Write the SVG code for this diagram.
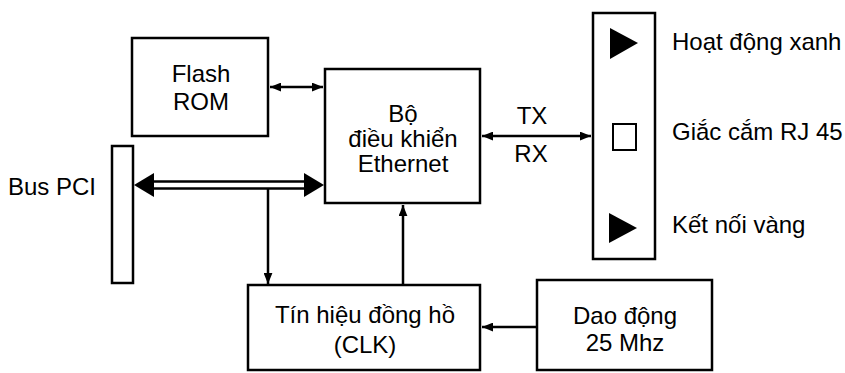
<svg xmlns="http://www.w3.org/2000/svg" width="845" height="373" viewBox="0 0 845 373">
<style>
.box{fill:#fff;stroke:#000;stroke-width:2.5}
.t{font-family:"Liberation Sans",Arial,sans-serif;font-size:24px;fill:#000}
.c{text-anchor:middle}
.ln{stroke:#000;stroke-width:2.5;fill:none}
</style>
<defs>
<marker id="ah" viewBox="0 0 10 8" refX="10" refY="4" markerWidth="11" markerHeight="9" markerUnits="userSpaceOnUse" orient="auto-start-reverse">
<path d="M0,0 L10,4 L0,8 z" fill="#000"/>
</marker>
</defs>
<rect width="845" height="373" fill="#fff"/>
<g id="flash-rom">
<rect class="box" x="132" y="38" width="136" height="98"/>
<text class="t c" x="201" y="82">Flash</text>
<text class="t c" x="201" y="110">ROM</text>
</g>
<g id="ethernet">
<rect class="box" x="325" y="69" width="155" height="134"/>
<text class="t c" x="403" y="122">Bộ</text>
<text class="t c" x="403" y="147">điều khiển</text>
<text class="t c" x="403" y="172">Ethernet</text>
</g>
<g id="bus-pci">
<rect class="box" x="112" y="146" width="21" height="137"/>
<text class="t" x="8" y="195">Bus PCI</text>
</g>
<g id="clk">
<rect class="box" x="248" y="285" width="232" height="85"/>
<text class="t c" x="365" y="323">Tín hiệu đồng hồ</text>
<text class="t c" x="365" y="353">(CLK)</text>
</g>
<g id="osc">
<rect class="box" x="537" y="280" width="175" height="90"/>
<text class="t c" x="625" y="324">Dao động</text>
<text class="t c" x="625" y="351">25 Mhz</text>
</g>
<g id="rj45">
<rect class="box" x="593" y="13" width="62" height="246"/>
<polygon points="610,28 638,43 610,59" fill="#000"/>
<rect x="613" y="124" width="23" height="26" fill="#fff" stroke="#000" stroke-width="2"/>
<polygon points="609,213 637,228 609,243" fill="#000"/>
<text class="t" x="672" y="50">Hoạt động xanh</text>
<text class="t" x="672" y="140">Giắc cắm RJ 45</text>
<text class="t" x="672" y="233">Kết nối vàng</text>
</g>
<g id="connectors">
<line class="ln" x1="270" y1="87" x2="323" y2="87" marker-start="url(#ah)" marker-end="url(#ah)"/>
<line class="ln" x1="482" y1="136" x2="591" y2="136" marker-start="url(#ah)" marker-end="url(#ah)"/>
<text class="t c" x="532" y="124">TX</text>
<text class="t c" x="531" y="162">RX</text>
<line class="ln" x1="150" y1="181.5" x2="308" y2="181.5" stroke-width="3"/>
<line class="ln" x1="150" y1="188.5" x2="308" y2="188.5" stroke-width="3"/>
<polygon points="134,185 154,173 154,197" fill="#000"/>
<polygon points="324,185 304,173 304,197" fill="#000"/>
<line class="ln" x1="268" y1="189" x2="268" y2="284" marker-end="url(#ah)"/>
<line class="ln" x1="403" y1="285" x2="403" y2="205" marker-end="url(#ah)"/>
<line class="ln" x1="537" y1="327" x2="482" y2="327" marker-end="url(#ah)"/>
</g>
</svg>
